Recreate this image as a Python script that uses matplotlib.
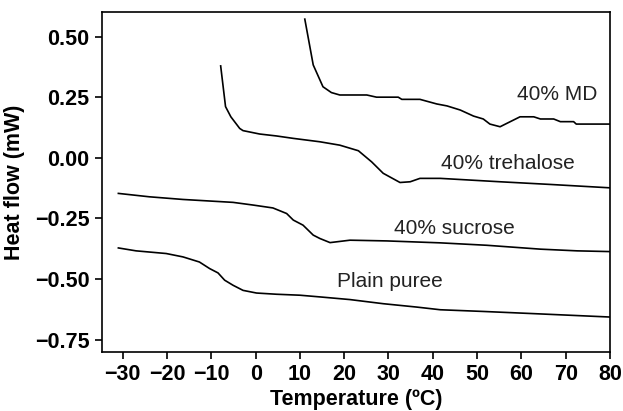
import matplotlib
matplotlib.use("Agg")
import matplotlib.pyplot as plt

plt.rcParams['font.family'] = ['Liberation Sans', 'DejaVu Sans']

# 40% MD
md_t = [11.1, 13.0, 15.2, 17.1, 19.0, 25.1, 27.3, 32.2, 33.0, 37.1, 40.9, 43.2, 46.2,
        49.2, 51.4, 52.9, 55.2, 56.4, 59.7, 62.8, 64.3, 67.3, 68.8, 71.8, 72.4, 80.0]
md_h = [0.572, 0.383, 0.293, 0.269, 0.259, 0.259, 0.250, 0.250, 0.241, 0.241, 0.222, 0.214, 0.197,
        0.172, 0.160, 0.139, 0.128, 0.139, 0.169, 0.169, 0.160, 0.160, 0.149, 0.149, 0.139, 0.139]

# 40% trehalose
tre_t = [-7.9, -6.8, -5.6, -3.6, -2.85, 0.9, 4.7, 8.5, 14.5, 19.0, 23.2, 26.2, 28.8,
         32.6, 34.9, 37.1, 41.7, 55.2, 66.5, 80.0]
tre_h = [0.379, 0.211, 0.169, 0.121, 0.112, 0.098, 0.090, 0.080, 0.066, 0.052, 0.029, -0.017, -0.064,
         -0.102, -0.099, -0.085, -0.085, -0.099, -0.110, -0.124]

# 40% sucrose
suc_t = [-31.0, -24.0, -16.4, -5.1, -0.6, 3.9, 7.0, 8.5, 10.7, 13.0, 14.5, 16.8, 21.3,
         29.6, 41.7, 52.2, 64.3, 72.6, 80.0]
suc_h = [-0.147, -0.161, -0.172, -0.184, -0.195, -0.207, -0.230, -0.257, -0.278, -0.319, -0.333, -0.350, -0.340,
         -0.343, -0.351, -0.361, -0.377, -0.384, -0.387]

# Plain puree
pp_t = [-31.0, -27.0, -20.2, -16.4, -12.7, -10.4, -8.5, -7.0, -5.1, -2.85, 0.2, 4.7, 10.0,
        14.5, 21.3, 28.8, 36.4, 41.7, 51.4, 62.8, 80.0]
pp_h = [-0.372, -0.384, -0.395, -0.409, -0.430, -0.457, -0.475, -0.505, -0.526, -0.547, -0.558, -0.563, -0.567,
        -0.574, -0.585, -0.602, -0.616, -0.627, -0.634, -0.643, -0.657]

labels = ["40% MD", "40% trehalose", "40% sucrose", "Plain puree"]
label_pos = [(68.1, 0.259), (57.0, -0.022), (44.8, -0.292), (30.4, -0.509)]

fig = plt.figure(figsize=(6.23, 4.11), dpi=100)
ax = fig.add_axes([0.1637, 0.1443, 0.8153, 0.8257])

for t, h in [(md_t, md_h), (tre_t, tre_h), (suc_t, suc_h), (pp_t, pp_h)]:
    ax.plot(t, h, color="black", lw=1.2)

for lab, (x, y) in zip(labels, label_pos):
    ax.text(x, y, lab, ha="center", va="center", fontsize=15, color="#222222")

ax.set_xlim(-34.7, 80)
ax.set_ylim(-0.80, 0.60)
ax.set_xticks(range(-30, 81, 10))
ax.set_xticklabels(["\u221230", "\u221220", "\u221210", "0", "10", "20", "30", "40", "50", "60", "70", "80"])
ax.set_yticks([0.5, 0.25, 0.0, -0.25, -0.5, -0.75])
ax.set_yticklabels(["0.50", "0.25", "0.00", "\u22120.25", "\u22120.50", "\u22120.75"])
ax.tick_params(direction="out", length=5, width=1.2, labelsize=15.5, pad=4)
for lab in ax.get_xticklabels() + ax.get_yticklabels():
    lab.set_fontweight("bold")
for s in ax.spines.values():
    s.set_linewidth(1.2)

ax.set_xlabel("Temperature (\u00baC)", fontsize=15.5, fontweight="bold", labelpad=3)
ax.set_ylabel("Heat flow (mW)", fontsize=15.5, fontweight="bold", labelpad=7)

fig.savefig("out.png", dpi=100)
